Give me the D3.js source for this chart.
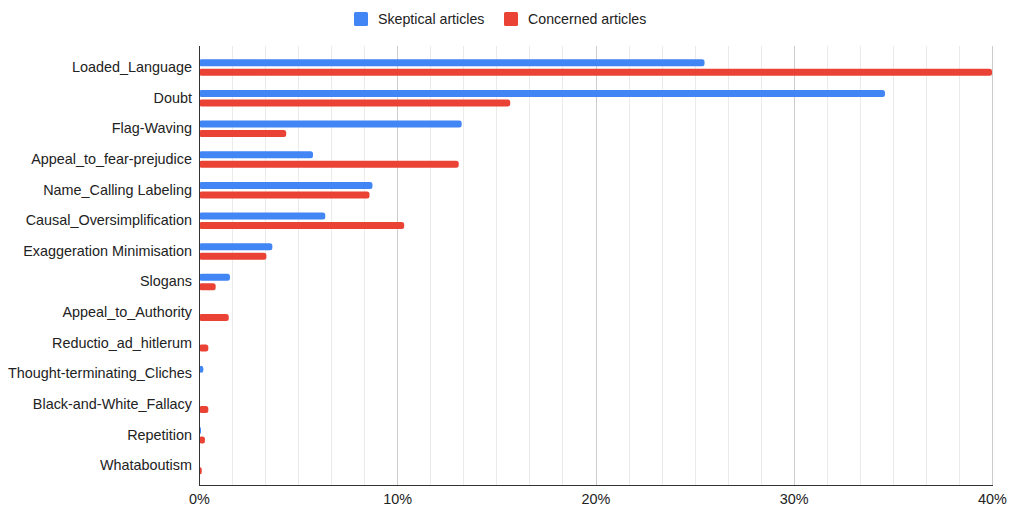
<!DOCTYPE html>
<html>
<head>
<meta charset="utf-8">
<script src="https://cdn.jsdelivr.net/npm/d3@7"></script>
<style>
  html, body { margin: 0; padding: 0; background: #fff; }
  svg { display: block; font-family: "Liberation Sans", Arial, sans-serif; }
</style>
</head>
<body>
<svg id="chart" width="1011" height="508"></svg>
<script>
// Propaganda techniques, share of articles (%)
const categories = [
  "Loaded_Language", "Doubt", "Flag-Waving", "Appeal_to_fear-prejudice",
  "Name_Calling Labeling", "Causal_Oversimplification", "Exaggeration Minimisation",
  "Slogans", "Appeal_to_Authority", "Reductio_ad_hitlerum",
  "Thought-terminating_Cliches", "Black-and-White_Fallacy", "Repetition", "Whataboutism"
];
const skeptical = [25.5, 34.6, 13.25, 5.75, 8.75, 6.37, 3.7, 1.56, 0, 0, 0.22, 0, 0.06, 0];
const concerned = [40.0, 15.7, 4.4, 13.1, 8.6, 10.35, 3.4, 0.84, 1.5, 0.47, 0, 0.47, 0.3, 0.14];
const seriesNames = ["Skeptical articles", "Concerned articles"];
const seriesColors = ["#4285f4", "#ea4335"];
const xTicks = [0, 10, 20, 30, 40];

const svg = d3.select("#chart");
const plot = { left: 199, right: 992, top: 46, bottom: 485 };
const labelFont = 14.4;

const x = d3.scaleLinear().domain([0, 40]).range([plot.left, plot.right]);
const y = d3.scaleBand().domain(categories).range([52, 481]).padding(0);

// Minor gridlines: six subdivisions per 10%
const minor = [];
for (let i = 0; i <= 24; i++) {
  if (i % 6 !== 0) minor.push(i * 10 / 6);
}
svg.append("g").selectAll("line").data(minor).join("line")
  .attr("x1", d => Math.round(x(d)) + 0.5).attr("x2", d => Math.round(x(d)) + 0.5)
  .attr("y1", plot.top).attr("y2", plot.bottom)
  .attr("stroke", "#ebebeb").attr("stroke-width", 1);

// Major gridlines
svg.append("g").selectAll("line").data(xTicks.slice(1)).join("line")
  .attr("x1", d => Math.round(x(d)) + 0.5).attr("x2", d => Math.round(x(d)) + 0.5)
  .attr("y1", plot.top).attr("y2", plot.bottom)
  .attr("stroke", "#cccccc").attr("stroke-width", 1);

// Bars
const barH = 7;
const groups = [skeptical, concerned];
groups.forEach((vals, si) => {
  svg.append("g").selectAll("rect")
    .data(vals.map((v, i) => ({ v, c: categories[i] })).filter(d => d.v > 0))
    .join("rect")
    .attr("x", x(0))
    .attr("y", d => y(d.c) + y.bandwidth() / 2 + (si === 0 ? -8 : 1.5))
    .attr("width", d => Math.max(x(d.v) - x(0), 2))
    .attr("height", barH)
    .attr("rx", 2.5).attr("ry", 2.5)
    .attr("fill", seriesColors[si]);
});

// Axis lines
svg.append("line")
  .attr("x1", plot.left + 0.5).attr("x2", plot.left + 0.5)
  .attr("y1", plot.top).attr("y2", plot.bottom + 1)
  .attr("stroke", "#333").attr("stroke-width", 1);
svg.append("line")
  .attr("x1", plot.left).attr("x2", plot.right + 1)
  .attr("y1", plot.bottom + 0.5).attr("y2", plot.bottom + 0.5)
  .attr("stroke", "#333").attr("stroke-width", 1);

// Category labels
const yAxis = d3.axisLeft(y).tickSize(0).tickPadding(7);
const gy = svg.append("g").attr("transform", `translate(${plot.left},0)`).call(yAxis);
gy.select(".domain").remove();
gy.selectAll("text").attr("font-size", labelFont).attr("fill", "#222")
  .style("font-family", "'Liberation Sans', Arial, sans-serif");

// Value axis labels
const xAxis = d3.axisBottom(x).tickValues(xTicks).tickFormat(d => d + "%").tickSize(0).tickPadding(9);
const gx = svg.append("g").attr("transform", `translate(0,${plot.bottom})`).call(xAxis);
gx.select(".domain").remove();
gx.selectAll("text").attr("font-size", labelFont).attr("fill", "#222")
  .style("font-family", "'Liberation Sans', Arial, sans-serif");

// Legend
const legendX = [354, 504];
seriesNames.forEach((name, i) => {
  const g = svg.append("g").attr("transform", `translate(${legendX[i]},12)`);
  g.append("rect").attr("width", 14).attr("height", 14).attr("rx", 1.5).attr("fill", seriesColors[i]);
  g.append("text").attr("x", 24).attr("y", 12).attr("font-size", 14.2).attr("fill", "#222").text(name);
});
</script>
</body>
</html>
